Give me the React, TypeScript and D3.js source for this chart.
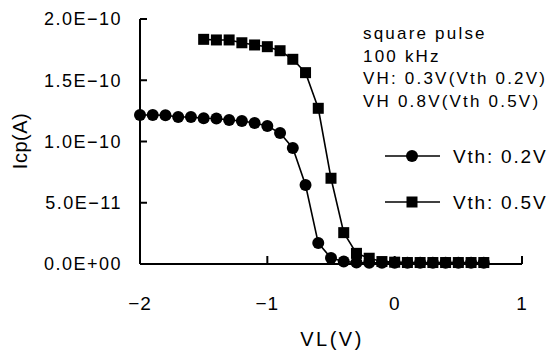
import React from 'react';
import * as d3 from 'd3';

// VL (V) sweep points
const vlCircle = [-2.0, -1.9, -1.8, -1.7, -1.6, -1.5, -1.4, -1.3, -1.2, -1.1, -1.0, -0.9, -0.8, -0.7, -0.6, -0.5, -0.4, -0.3, -0.2, -0.1, 0.0, 0.1, 0.2, 0.3, 0.4, 0.5, 0.6, 0.7];
const icpVth02 = [1.216e-10, 1.216e-10, 1.214e-10, 1.2e-10, 1.2e-10, 1.19e-10, 1.188e-10, 1.176e-10, 1.167e-10, 1.151e-10, 1.127e-10, 1.069e-10, 0.947e-10, 0.645e-10, 0.171e-10, 0.049e-10, 0.02e-10, 0.012e-10, 0.01e-10, 0.01e-10, 0.01e-10, 0.01e-10, 0.01e-10, 0.01e-10, 0.01e-10, 0.01e-10, 0.01e-10, 0.01e-10];

const vlSquare = [-1.5, -1.4, -1.3, -1.2, -1.1, -1.0, -0.9, -0.8, -0.7, -0.6, -0.5, -0.4, -0.3, -0.2, -0.1, 0.0, 0.1, 0.2, 0.3, 0.4, 0.5, 0.6, 0.7];
const icpVth05 = [1.834e-10, 1.829e-10, 1.829e-10, 1.806e-10, 1.788e-10, 1.774e-10, 1.741e-10, 1.671e-10, 1.562e-10, 1.271e-10, 0.70e-10, 0.256e-10, 0.087e-10, 0.047e-10, 0.02e-10, 0.015e-10, 0.012e-10, 0.012e-10, 0.012e-10, 0.012e-10, 0.012e-10, 0.012e-10, 0.012e-10];

const xTicks = [-2, -1, 0, 1];
const yTicks = [0, 5e-11, 1e-10, 1.5e-10, 2e-10];
const yTickLabels = ['0.0E+00', '5.0E\u221211', '1.0E\u221210', '1.5E\u221210', '2.0E\u221210'];
const xTickLabels = ['\u22122', '\u22121', '0', '1'];
const notes = ['square pulse', '100 kHz', 'VH: 0.3V(Vth 0.2V)', 'VH 0.8V(Vth 0.5V)'];
const legendNames = ['Vth: 0.2V', 'Vth: 0.5V'];

const W = 547;
const H = 351;
const font = '"Liberation Sans", Arial, sans-serif';

export default function App() {
  const x = d3.scaleLinear().domain([-2, 1]).range([140, 522]);
  const y = d3.scaleLinear().domain([0, 2e-10]).range([264, 19]);

  const line = d3.line<[number, number]>()
    .x(d => x(d[0]))
    .y(d => y(d[1]));

  const s1: [number, number][] = vlCircle.map((v, i) => [v, icpVth02[i]]);
  const s2: [number, number][] = vlSquare.map((v, i) => [v, icpVth05[i]]);

  const sq = 11;

  return (
    <svg width={W} height={H} style={{ position: 'absolute', left: 0, top: 0, background: '#fff' }}>
      {/* axes */}
      <line x1={x(-2)} x2={x(-2)} y1={y(2e-10)} y2={y(0)} stroke="#000" strokeWidth={2} />
      <line x1={x(-2)} x2={x(1)} y1={y(0)} y2={y(0)} stroke="#000" strokeWidth={2} />
      {yTicks.map((t, i) => (
        <g key={'yt' + i}>
          <line x1={x(-2)} x2={x(-2) + 7} y1={y(t)} y2={y(t)} stroke="#000" strokeWidth={2} />
          <text x={122} y={y(t)} dy="0.36em" textAnchor="end" fontFamily={font} fontSize={18} letterSpacing={1.5}>{yTickLabels[i]}</text>
        </g>
      ))}
      {xTicks.map((t, i) => (
        <g key={'xt' + i}>
          <line x1={x(t)} x2={x(t)} y1={y(0)} y2={y(0) - 8} stroke="#000" strokeWidth={2} />
          <text x={x(t)} y={310} textAnchor="middle" fontFamily={font} fontSize={19} letterSpacing={1}>{xTickLabels[i]}</text>
        </g>
      ))}
      <text x={332} y={346} textAnchor="middle" fontFamily={font} fontSize={20} letterSpacing={2.5}>VL(V)</text>
      <text transform="translate(27,141) rotate(-90)" textAnchor="middle" fontFamily={font} fontSize={20} letterSpacing={0.5}>Icp(A)</text>

      {/* series */}
      <path d={line(s1) || ''} fill="none" stroke="#000" strokeWidth={1.6} />
      <path d={line(s2) || ''} fill="none" stroke="#000" strokeWidth={1.6} />
      {s1.map((d, i) => (
        <circle key={'c' + i} cx={x(d[0])} cy={y(d[1])} r={6} fill="#000" />
      ))}
      {s2.map((d, i) => (
        <rect key={'s' + i} x={x(d[0]) - sq / 2} y={y(d[1]) - sq / 2} width={sq} height={sq} fill="#000" />
      ))}

      {/* annotation */}
      {notes.map((n, i) => (
        <text key={'n' + i} x={363} y={39 + i * 22.5} fontFamily={font} fontSize={17} letterSpacing={2.2}>{n}</text>
      ))}

      {/* legend */}
      <line x1={385} x2={440} y1={156} y2={156} stroke="#000" strokeWidth={1.6} />
      <circle cx={412} cy={156} r={6} fill="#000" />
      <text x={453} y={156} dy="0.36em" fontFamily={font} fontSize={19} letterSpacing={1.8}>{legendNames[0]}</text>
      <line x1={385} x2={440} y1={202} y2={202} stroke="#000" strokeWidth={1.6} />
      <rect x={412 - sq / 2} y={202 - sq / 2} width={sq} height={sq} fill="#000" />
      <text x={453} y={202} dy="0.36em" fontFamily={font} fontSize={19} letterSpacing={1.8}>{legendNames[1]}</text>
    </svg>
  );
}
